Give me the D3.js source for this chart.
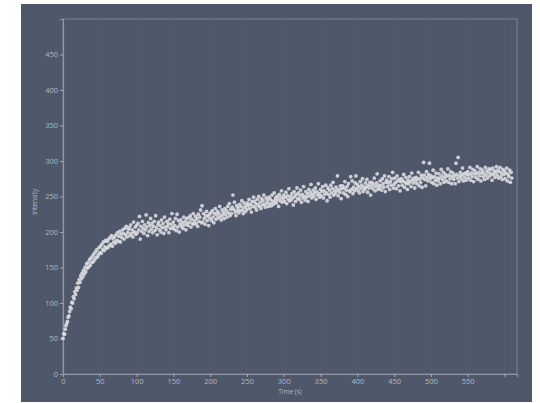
<!DOCTYPE html>
<html>
<head>
<meta charset="utf-8">
<script src="https://cdnjs.cloudflare.com/ajax/libs/d3/7.8.5/d3.min.js"></script>
<style>
  body {margin: 0; background: #fff;}
  svg text {font-family: 'Open Sans', sans-serif; fill: #b3b8c3;}
</style>
</head>
<body>
<div class="chart"></div>
<script>
// one reading per second, starting at t = 0
var tStart = 0, tStep = 1

var intensity = [
  50, 57, 56, 63, 68, 71, 74, 80, 82, 88,
  94, 92, 101, 100, 109, 106, 116, 112, 121, 118,
  128, 122, 133, 129, 138, 134, 142, 137, 146, 141,
  150, 144, 155, 149, 157, 151, 161, 153, 163, 157,
  166, 158, 169, 161, 172, 164, 175, 165, 168, 178,
  171, 180, 170, 183, 175, 186, 174, 179, 188, 177,
  187, 178, 190, 181, 192, 183, 195, 180, 191, 186,
  193, 184, 196, 188, 199, 187, 194, 201, 186, 197,
  192, 203, 198, 190, 205, 196, 208, 193, 199, 204,
  206, 195, 210, 198, 203, 193, 214, 200, 207, 197,
  209, 199, 212, 203, 222, 190, 208, 201, 215, 205,
  198, 210, 203, 224, 207, 195, 213, 201, 209, 219,
  204, 212, 199, 208, 215, 202, 223, 206, 196, 211,
  214, 203, 209, 200, 217, 206, 212, 198, 221, 207,
  203, 215, 208, 212, 199, 218, 205, 211, 226, 206,
  214, 204, 209, 219, 202, 225, 207, 216, 200, 211,
  217, 208, 213, 205, 221, 210, 215, 203, 219, 212,
  209, 220, 214, 223, 207, 218, 212, 226, 211, 216,
  222, 212, 219, 208, 225, 215, 221, 231, 213, 237,
  214, 226, 219, 211, 223, 229, 216, 222, 209, 225,
  219, 227, 216, 230, 221, 213, 226, 233, 218, 224,
  229, 220, 226, 236, 222, 217, 231, 224, 228, 219,
  233, 225, 230, 221, 236, 227, 240, 223, 232, 226,
  235, 252, 232, 242, 228, 223, 237, 230, 234, 227,
  239, 230, 236, 244, 231, 226, 241, 235, 229, 238,
  232, 241, 237, 246, 233, 239, 228, 243, 236, 249,
  243, 235, 240, 231, 246, 238, 250, 236, 242, 233,
  247, 238, 244, 252, 239, 235, 248, 241, 245, 236,
  249, 240, 246, 237, 252, 243, 239, 255, 244, 248,
  241, 250, 246, 236, 253, 244, 249, 258, 242, 247,
  252, 243, 249, 256, 240, 251, 246, 261, 244, 250,
  245, 254, 248, 238, 257, 250, 243, 253, 262, 247,
  255, 246, 251, 259, 242, 253, 248, 264, 250, 245,
  257, 249, 254, 243, 260, 251, 256, 267, 248, 253,
  259, 250, 255, 262, 246, 257, 252, 268, 254, 249,
  260, 251, 257, 264, 248, 258, 253, 266, 255, 244,
  262, 253, 259, 249, 266, 255, 261, 270, 252, 258,
  254, 263, 258, 279, 251, 260, 256, 265, 247, 261,
  265, 255, 262, 271, 253, 259, 264, 250, 268, 258,
  257, 278, 260, 272, 254, 263, 258, 269, 279, 261,
  267, 258, 264, 255, 271, 261, 266, 275, 257, 263,
  260, 269, 263, 274, 256, 266, 262, 270, 252, 265,
  270, 261, 267, 276, 258, 264, 269, 282, 260, 266,
  262, 272, 265, 259, 275, 268, 263, 279, 257, 270,
  273, 264, 269, 278, 260, 271, 266, 275, 284, 262,
  267, 276, 270, 261, 279, 272, 265, 274, 258, 271,
  275, 266, 272, 281, 263, 270, 277, 268, 260, 273,
  268, 278, 271, 264, 283, 274, 269, 276, 262, 272,
  277, 268, 274, 284, 265, 275, 270, 280, 263, 276,
  298, 280, 274, 265, 285, 277, 272, 281, 297, 275,
  279, 270, 277, 287, 268, 278, 273, 283, 266, 276,
  272, 282, 276, 268, 288, 279, 274, 284, 270, 277,
  281, 272, 279, 289, 270, 280, 275, 285, 268, 278,
  283, 274, 279, 268, 297, 281, 276, 305, 271, 279,
  284, 275, 280, 290, 272, 282, 277, 283, 273, 281,
  285, 276, 281, 291, 273, 283, 278, 288, 271, 282,
  286, 277, 282, 292, 274, 284, 279, 289, 272, 283,
  287, 278, 283, 274, 291, 280, 286, 276, 284, 289,
  279, 288, 282, 273, 290, 281, 286, 277, 284, 292,
  280, 287, 276, 285, 291, 278, 283, 274, 288, 281,
  286, 275, 283, 290, 272, 281, 278, 287, 270, 284, 276
]

var xTicks = [0, 50, 100, 150, 200, 250, 300, 350, 400, 450, 500, 550, 600]
var xTickLabels = ['0', '50', '100', '150', '200', '250', '300', '350', '400', '450', '500', '550', '']
var yTicks = [0, 50, 100, 150, 200, 250, 300, 350, 400, 450]

var data = intensity.map((v, i) => ({t: tStart + i*tStep, v}))

var W = 540, H = 403
var margin = {left: 63, right: 23, top: 19, bottom: 29}
var width = W - margin.left - margin.right
var height = H - margin.top - margin.bottom

var svg = d3.select('.chart').append('svg')
  .attr('width', W).attr('height', H)

// dark panel
svg.append('rect')
  .attr('x', 21).attr('y', 4).attr('width', 511).attr('height', 398)
  .attr('fill', '#4f576a')

var g = svg.append('g')
  .attr('transform', `translate(${margin.left},${margin.top})`)

var x = d3.scaleLinear().domain([0, 617]).range([0, width])
var y = d3.scaleLinear().domain([0, 500]).range([height, 0])

// barely visible vertical grid
g.selectAll('line.grid').data(xTicks.slice(1)).join('line')
  .attr('class', 'grid')
  .attr('x1', d => x(d)).attr('x2', d => x(d))
  .attr('y1', 0).attr('y2', height)
  .attr('stroke', '#545c6f').attr('stroke-width', 1)

// plot frame
g.append('rect')
  .attr('width', width).attr('height', height)
  .attr('fill', 'none').attr('stroke', '#7d8496').attr('stroke-width', 1)

var xAxis = g.append('g')
  .attr('transform', `translate(0,${height})`)
  .call(d3.axisBottom(x).tickValues(xTicks).tickFormat((d, i) => xTickLabels[i]).tickSize(3).tickPadding(2))

var yAxis = g.append('g')
  .call(d3.axisLeft(y).tickValues(yTicks).tickSize(3).tickPadding(2))

;[xAxis, yAxis].forEach(a => {
  a.select('.domain').attr('stroke', '#8f96a6').attr('stroke-width', 1.2)
  a.selectAll('.tick line').attr('stroke', '#a3a9b6')
  a.selectAll('.tick text').attr('fill', '#b3b8c3').style('font-size', '7.5px')
})

g.append('text')
  .attr('x', width/2).attr('y', height + 19.5)
  .attr('text-anchor', 'middle')
  .style('font-size', '6.5px')
  .text('Time (s)')

g.append('text')
  .attr('transform', `translate(${-26},${height*0.515}) rotate(-90)`)
  .attr('text-anchor', 'middle')
  .style('font-size', '6.5px')
  .text('Intensity')

g.selectAll('circle').data(data).join('circle')
  .attr('cx', d => x(d.t))
  .attr('cy', d => y(d.v))
  .attr('r', 1.9)
  .attr('fill', '#d9dadf')
  .attr('fill-opacity', 0.9)
</script>
</body>
</html>
